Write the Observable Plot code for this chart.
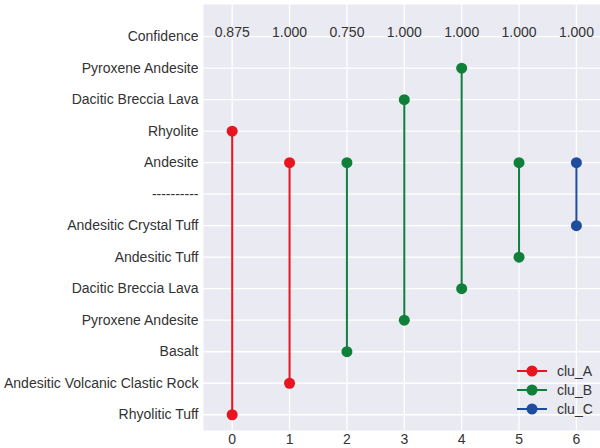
<!DOCTYPE html>
<html>
<head>
<meta charset="utf-8">
<script src="https://cdn.jsdelivr.net/npm/d3@7"></script>
<script src="https://cdn.jsdelivr.net/npm/@observablehq/plot@0.6"></script>
<style>
  body { margin: 0; background: #fff; font-family: "Liberation Sans", Arial, sans-serif; }
  #wrap { position: relative; width: 600px; height: 448px; }
  #legend { position: absolute; left: 516px; top: 362px; font-size: 14px; color: #333; }
  #legend div { display: flex; align-items: center; height: 18.7px; }
  #legend span { margin-left: 9px; }
</style>
</head>
<body>
<div id="wrap"></div>
<script>
const rowLabels = ["Rhyolitic Tuff", "Andesitic Volcanic Clastic Rock", "Basalt", "Pyroxene Andesite",
  "Dacitic Breccia Lava", "Andesitic Tuff", "Andesitic Crystal Tuff", "----------", "Andesite",
  "Rhyolite", "Dacitic Breccia Lava", "Pyroxene Andesite", "Confidence"];
const columns = [0, 1, 2, 3, 4, 5, 6];
const starts = [0, 1, 2, 3, 4, 5, 6];
const ends = [9, 8, 8, 10, 11, 8, 8];
const clusters = ["clu_A", "clu_A", "clu_B", "clu_B", "clu_B", "clu_B", "clu_C"];
const confidence = ["0.875", "1.000", "0.750", "1.000", "1.000", "1.000", "1.000"];
const clusterNames = ["clu_A", "clu_B", "clu_C"];
const clusterColors = ["#e8141f", "#0f803a", "#1f4d9e"];
const confRow = 12;

const segs = columns.map((c, i) => ({x: c, y1: starts[i], y2: ends[i], cluster: clusters[i]}));
const pts = segs.flatMap(d => [{x: d.x, y: d.y1, cluster: d.cluster}, {x: d.x, y: d.y2, cluster: d.cluster}]);
const conf = columns.map((c, i) => ({x: c, y: confRow, label: confidence[i]}));

const chart = Plot.plot({
  width: 600,
  height: 448,
  marginLeft: 203,
  marginRight: 0,
  marginTop: 4,
  marginBottom: 18,
  style: {fontFamily: "'Liberation Sans', Arial, sans-serif", fontSize: "14px", color: "#333", background: "#fff"},
  x: {domain: [-0.5, 6.42], label: null},
  y: {domain: [-0.5, 13.02], label: null},
  color: {domain: clusterNames, range: clusterColors},
  marks: [
    Plot.frame({fill: "#eaeaf2", stroke: null}),
    Plot.gridX(columns, {stroke: "#fff", strokeOpacity: 1, strokeWidth: 1.3}),
    Plot.gridY(d3.range(rowLabels.length), {stroke: "#fff", strokeOpacity: 1, strokeWidth: 1.3}),
    Plot.ruleX(segs, {x: "x", y1: "y1", y2: "y2", stroke: "cluster", strokeWidth: 2}),
    Plot.dot(pts, {x: "x", y: "y", fill: "cluster", r: 5.5, stroke: null}),
    Plot.text(conf, {x: "x", y: "y", text: "label", dy: -4, fill: "#333", fontSize: 14}),
    Plot.axisX(columns, {tickFormat: d3.format("d"), tickSize: 0, tickPadding: 4, fontSize: 14, label: null, fill: "#333"}),
    Plot.axisY(d3.range(rowLabels.length), {tickFormat: i => rowLabels[i], tickSize: 0, tickPadding: 5, fontSize: 14, label: null, fill: "#333"}),
  ]
});
document.getElementById("wrap").appendChild(chart);

const legend = document.createElement("div");
legend.id = "legend";
clusterNames.forEach((n, i) => {
  const row = document.createElement("div");
  row.innerHTML = `<svg width="32" height="12"><line x1="1" x2="31" y1="6" y2="6" stroke="${clusterColors[i]}" stroke-width="2"/><circle cx="16" cy="6" r="5.5" fill="${clusterColors[i]}"/></svg><span>${n}</span>`;
  legend.appendChild(row);
});
document.getElementById("wrap").appendChild(legend);
</script>
</body>
</html>
